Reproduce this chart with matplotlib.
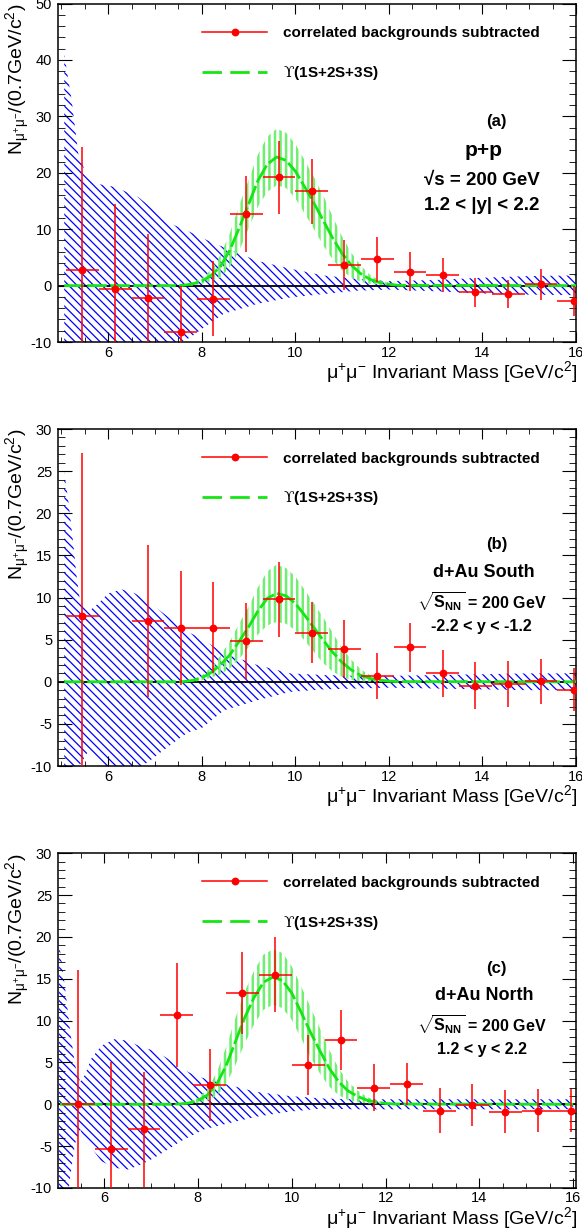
import numpy as np
import matplotlib
matplotlib.use('Agg')
import matplotlib.pyplot as plt
from matplotlib.ticker import MultipleLocator
from matplotlib.lines import Line2D

plt.rcParams['font.family'] = ['Liberation Sans', 'DejaVu Sans']
plt.rcParams['mathtext.fontset'] = 'custom'
plt.rcParams['mathtext.rm'] = 'Liberation Sans'
plt.rcParams['mathtext.bf'] = 'Liberation Sans:bold'
plt.rcParams['mathtext.it'] = 'Liberation Sans:italic'
plt.rcParams['mathtext.sf'] = 'DejaVu Serif'
plt.rcParams['mathtext.default'] = 'regular'
plt.rcParams['axes.unicode_minus'] = False
plt.rcParams['hatch.linewidth'] = 1.0

nan = np.nan

# bin centres (0.7 GeV/c^2 bins)
mass = [5.45, 6.15, 6.85, 7.55, 8.25, 8.95, 9.65, 10.35, 11.05, 11.75,
        12.45, 13.15, 13.85, 14.55, 15.25, 15.95]
bin_half = 0.35

# (a) p+p
pp_yield = [2.7, -0.6, -2.2, -8.3, -2.3, 12.7, 19.2, 16.7, 3.7, 4.7, 2.5, 1.9, -1.2, -1.5, 0.2, -2.7]
pp_err = [21.8, 15.0, 11.3, 8.3, 6.7, 6.7, 6.5, 5.7, 4.4, 4.0, 3.5, 3.0, 2.6, 2.5, 2.7, 2.6]

# (b) d+Au south
south_yield = [7.8, nan, 7.2, 6.4, 6.4, 4.8, 9.8, 5.85, 3.9, 0.67, 4.1, 1.0, -0.47, -0.28, 0.04, -0.95]
south_err = [19.4, nan, 9.0, 6.8, 5.4, 4.5, 4.45, 3.6, 3.45, 2.7, 2.9, 2.8, 2.8, 2.7, 2.65, 2.55]

# (c) d+Au north
north_yield = [0.04, -5.3, -3.0, 10.7, 2.3, 13.3, 15.5, 4.7, 7.7, 2.0, 2.4, -0.75, -0.08, -0.87, -0.75, -0.75]
north_err = [16.0, 10.3, 6.9, 6.2, 4.35, 4.85, 4.45, 3.6, 3.6, 2.8, 2.5, 2.7, 2.55, 2.6, 2.6, 2.6]

# Upsilon line shape + its uncertainty (half width)
fit_mass = [5.06, 7.4, 7.6, 7.8, 8.0, 8.2, 8.4, 8.6, 8.8, 9.0, 9.2, 9.4, 9.6, 9.8,
            10.0, 10.2, 10.4, 10.6, 10.8, 11.0, 11.2, 11.4, 11.6, 11.8, 12.0, 12.2, 16.0]
pp_fit = [0, 0, 0.05, 0.3, 0.8, 1.8, 3.4, 6.3, 10.2, 14.4, 18.6, 21.5, 22.8, 22.2,
          20.3, 17.5, 14.6, 11.5, 8.4, 5.7, 3.6, 2.1, 1.1, 0.55, 0.25, 0.05, 0]
pp_fit_unc = [0, 0, 0.1, 0.3, 0.5, 1.0, 2.0, 3.0, 4.0, 4.3, 4.6, 4.9, 5.0, 4.9,
              4.8, 4.7, 4.6, 4.4, 3.8, 3.0, 2.2, 1.4, 0.8, 0.4, 0.2, 0.05, 0]
south_fit = [0, 0, 0.02, 0.15, 0.45, 1.1, 2.0, 3.2, 4.8, 6.5, 8.4, 9.9, 10.5, 10.2,
             9.3, 7.9, 6.4, 4.9, 3.5, 2.3, 1.4, 0.75, 0.4, 0.2, 0.08, 0.02, 0]
south_fit_unc = [0, 0, 0.05, 0.15, 0.3, 0.6, 1.1, 1.6, 2.1, 2.4, 2.8, 3.2, 3.4, 3.3,
                 3.2, 3.0, 2.9, 2.7, 2.3, 1.7, 1.2, 0.7, 0.4, 0.2, 0.1, 0.03, 0]
north_fit = [0, 0, 0.03, 0.15, 0.45, 1.1, 2.4, 4.6, 7.5, 10.4, 12.8, 14.6, 15.2, 14.8,
             13.3, 11.0, 8.6, 6.4, 4.3, 2.7, 1.6, 0.95, 0.5, 0.25, 0.1, 0.03, 0]
north_fit_unc = [0, 0, 0.05, 0.15, 0.3, 0.7, 1.4, 2.2, 2.8, 3.1, 3.2, 3.3, 3.3, 3.3,
                 3.2, 3.1, 3.0, 2.7, 2.2, 1.6, 1.1, 0.7, 0.4, 0.2, 0.1, 0.03, 0]

# background subtraction systematics (hatched blue)
pp_bkg_mass = [5.06, 5.22, 5.29, 5.36, 5.5, 5.79, 6.14, 6.64, 7.0, 7.36, 7.75, 8.1,
               8.47, 9.18, 9.89, 10.6, 11.32, 12.0, 13.0, 14.0, 15.0, 16.0]
pp_bkg_hi = [41.0, 32.8, 28.1, 23.4, 20.4, 18.0, 17.5, 15.7, 13.3, 10.9, 9.5, 8.1,
             6.8, 4.4, 3.0, 1.8, 1.2, 0.8, 1.0, 1.4, 1.7, 1.8]
pp_bkg_lo = [-41.0, -32.8, -28.1, -23.4, -20.4, -18.0, -17.5, -15.7, -13.3, -10.9, -9.2, -7.1,
             -5.0, -3.25, -2.1, -1.5, -0.9, -0.7, -1.0, -1.4, -1.6, -1.7]

south_bkg_mass = [5.06, 5.14, 5.25, 5.32, 5.39, 5.57, 5.79, 6.0, 6.29, 6.57, 6.86, 7.14,
                  7.43, 7.71, 8.0, 8.47, 9.18, 9.89, 10.6, 11.32, 12.0, 13.0, 14.0, 15.0, 16.0]
south_bkg_hi = [24.9, 21.8, 16.6, 12.7, 9.9, 8.3, 9.3, 10.5, 10.96, 10.5, 9.5, 8.3,
                7.1, 5.9, 5.1, 3.4, 2.0, 1.0, 0.8, 0.7, 0.7, 0.8, 0.9, 1.0, 1.0]
south_bkg_lo = [-24.9, -21.8, -16.6, -12.7, -9.9, -8.3, -9.3, -10.5, -10.96, -10.5, -9.5, -8.3,
                -7.1, -6.0, -5.5, -3.4, -2.2, -1.2, -0.9, -0.8, -0.7, -0.8, -0.9, -1.0, -1.0]

north_bkg_mass = [5.04, 5.17, 5.27, 5.38, 5.49, 5.59, 5.73, 5.94, 6.23, 6.51, 6.79, 7.07,
                  7.36, 7.64, 7.92, 8.13, 8.52, 9.23, 9.93, 10.64, 11.3, 12.0, 13.0, 14.0, 15.0, 16.0]
north_bkg_hi = [19.3, 13.8, 9.0, 4.7, 2.7, 3.5, 5.5, 7.0, 7.8, 7.6, 6.85, 6.4,
                5.45, 4.3, 3.5, 3.1, 2.5, 1.5, 1.0, 0.7, 0.6, 0.6, 0.6, 0.6, 0.6, 0.6]
north_bkg_lo = [-19.3, -13.8, -9.0, -4.7, -3.0, -4.5, -5.2, -6.8, -7.6, -7.8, -7.2, -6.4,
                -5.4, -4.4, -3.6, -3.0, -2.45, -1.5, -0.9, -0.5, -0.6, -0.6, -0.6, -0.6, -0.6, -0.6]

GREEN = '#14e614'
BAND_GREEN = '#70ee70'


def draw_panel(ax, yld, err, fit, fit_unc, bm, bhi, blo, ylim, ymaj, ymin, xlim,
               texts, big, text_y, xlab_y):
    bk = ax.fill_between(bm, blo, bhi, facecolor='none', edgecolor='blue',
                         hatch='\\\\\\\\', lw=0, zorder=1)
    ax.axhline(0, color='black', lw=1.3, zorder=2)
    f = np.array(fit)
    u = np.array(fit_unc)
    gb = ax.fill_between(fit_mass, f - u, f + u, facecolor='none', edgecolor=BAND_GREEN,
                         hatch='|||', lw=0, zorder=3)
    if hasattr(gb, 'set_hatch_linewidth'):
        gb.set_hatch_linewidth(1.8)
        bk.set_hatch_linewidth(0.9)
    ax.plot(fit_mass, fit, color=GREEN, lw=2, ls=(0, (7, 1.3)), zorder=4)
    ax.errorbar(mass, yld, xerr=bin_half, yerr=err, fmt='o', color='red', ms=4.6,
                elinewidth=1.1, capsize=0, zorder=5)

    ax.set_xlim(*xlim)
    ax.set_ylim(*ylim)
    ax.xaxis.set_major_locator(MultipleLocator(2))
    ax.xaxis.set_minor_locator(MultipleLocator(0.5))
    ax.yaxis.set_major_locator(MultipleLocator(ymaj))
    ax.yaxis.set_minor_locator(MultipleLocator(ymin))
    ax.tick_params(which='both', direction='in', top=True, right=True, labelsize=10.5)
    ax.tick_params(axis='x', which='major', length=7, pad=2.5)
    ax.tick_params(axis='x', which='minor', length=3.5)
    ax.tick_params(axis='y', which='major', length=10, pad=4)
    ax.tick_params(axis='y', which='minor', length=5)
    for s in ax.spines.values():
        s.set_linewidth(1.1)

    ax.set_ylabel(r'N$_{\mu^{+}\mu^{-}}$/(0.7GeV/c$^{2}$)', fontsize=14, loc='top')
    ax.yaxis.set_label_coords(-0.05, 1.0)
    ax.set_xlabel(r'$\mu^{+}\mu^{-}$ Invariant Mass [GeV/c$^{2}$]', fontsize=14, loc='right')
    ax.xaxis.set_label_coords(1.003, xlab_y)

    h_data = Line2D([], [], color='red', marker='o', ms=4.6, lw=1.1)
    h_fit = Line2D([], [], color=GREEN, lw=2, ls=(0, (7, 3)))
    ax.legend([h_data, h_fit], ['correlated backgrounds subtracted', r'$\mathsf{ϒ}$(1S+2S+3S)'],
              loc='upper left', bbox_to_anchor=(0.278, 0.933), frameon=False,
              prop=dict(weight='bold', size=11), handlelength=4.3, handletextpad=1.0,
              labelspacing=1.56, borderpad=0, borderaxespad=0)

    ax.text(0.847, text_y[0], texts[0], transform=ax.transAxes, ha='center', va='center',
            fontsize=12, weight='bold')
    ax.text(0.8225, text_y[1], texts[1], transform=ax.transAxes, ha='center', va='center',
            fontsize=big + 1.5, weight='bold')
    ax.text(0.818, text_y[2], texts[2], transform=ax.transAxes, ha='center', va='center',
            fontsize=big, weight='bold')
    ax.text(0.818, text_y[3], texts[3], transform=ax.transAxes, ha='center', va='center',
            fontsize=big, weight='bold')


fig = plt.figure(figsize=(5.82, 12.29), dpi=100)
ax1 = fig.add_axes([0.0991, 0.7217, 0.8906, 0.2754])
ax2 = fig.add_axes([0.0991, 0.3767, 0.8906, 0.2742])
ax3 = fig.add_axes([0.0991, 0.0334, 0.8906, 0.2723])

draw_panel(ax1, pp_yield, pp_err, pp_fit, pp_fit_unc, pp_bkg_mass, pp_bkg_hi, pp_bkg_lo,
           (-10, 50), 10, 2, (4.92, 16.0),
           ['(a)', 'p+p', '√s = 200 GeV', '1.2 < |y| < 2.2'], 13.5,
           [0.652, 0.566, 0.476, 0.402], -0.05)
draw_panel(ax2, south_yield, south_err, south_fit, south_fit_unc, south_bkg_mass,
           south_bkg_hi, south_bkg_lo, (-10, 30), 5, 1, (4.92, 16.0),
           ['(b)', 'd+Au South', r'$\mathbf{\sqrt{S_{NN}}}$ = 200 GeV', '-2.2 < y < -1.2'], 11.5,
           [0.656, 0.574, 0.488, 0.414], -0.05)
draw_panel(ax3, north_yield, north_err, north_fit, north_fit_unc, north_bkg_mass,
           north_bkg_hi, north_bkg_lo, (-10, 30), 5, 1, (5.01, 16.06),
           ['(c)', 'd+Au North', r'$\mathbf{\sqrt{S_{NN}}}$ = 200 GeV', '1.2 < y < 2.2'], 11.5,
           [0.656, 0.576, 0.488, 0.414], -0.051)

fig.savefig('out.png', dpi=100)
